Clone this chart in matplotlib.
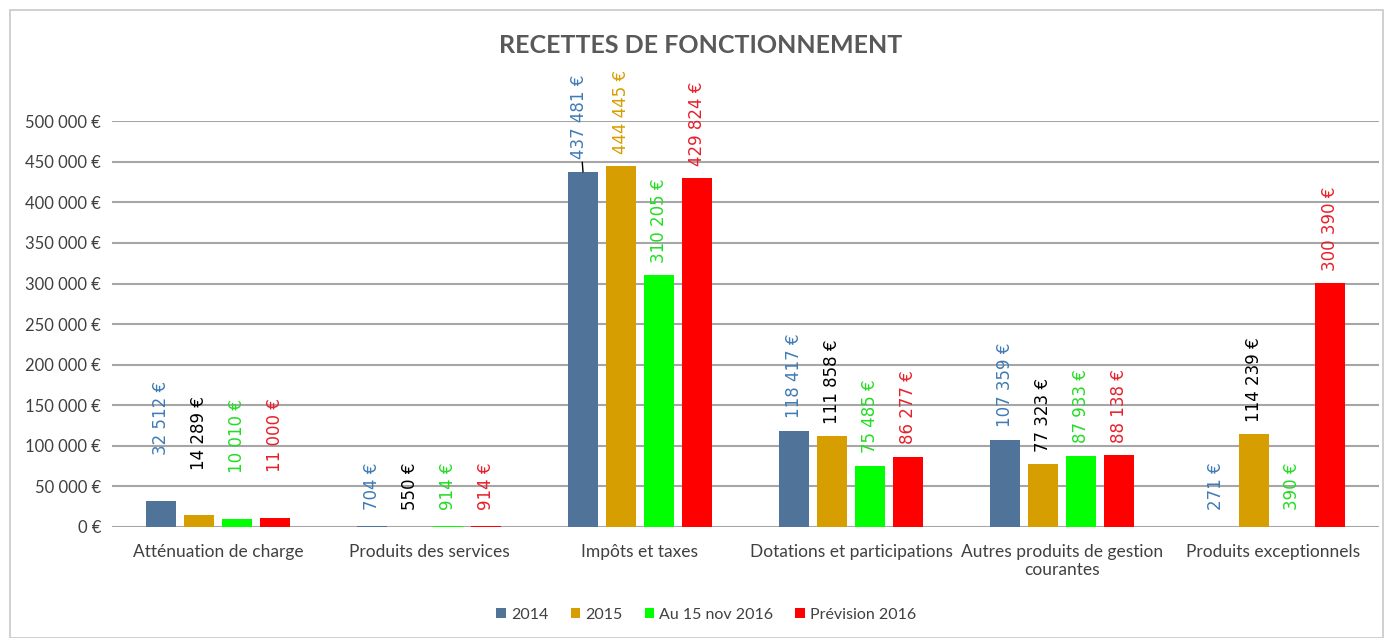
import matplotlib.pyplot as plt
from matplotlib.patches import Rectangle
import numpy as np

# data
categories = ["Atténuation de charge", "Produits des services", "Impôts et taxes",
              "Dotations et participations", "Autres produits de gestion\ncourantes",
              "Produits exceptionnels"]
series = ["2014", "2015", "Au 15 nov 2016", "Prévision 2016"]
v2014 = [32512, 704, 437481, 118417, 107359, 271]
v2015 = [14289, 550, 444445, 111858, 77323, 114239]
vnov2016 = [10010, 914, 310205, 75485, 87933, 390]
vprev2016 = [11000, 914, 429824, 86277, 88138, 300390]
yticks = [0, 50000, 100000, 150000, 200000, 250000, 300000, 350000, 400000, 450000, 500000]

bar_colors = ["#50739A", "#D69E00", "#00FF00", "#FF0000"]
label_colors = ["#3F7BB6", "#000000", "#22DD22", "#E8202A"]

def fmt(v):
    return "{:,}".format(v).replace(",", " ") + " €"

plt.rcParams['font.family'] = ['Lato', 'DejaVu Sans']

fig = plt.figure(figsize=(13.87, 6.38), dpi=100)
fig.patches.append(Rectangle((0.007, 0.0), 0.99, 0.985, transform=fig.transFigure,
                             fill=False, edgecolor="#C8C8C8", linewidth=1.2))
ax = fig.add_axes([0.081, 0.174, 0.913, 0.636])

x = np.arange(len(categories))
width = 0.142
step = 0.18
all_vals = [v2014, v2015, vnov2016, vprev2016]
for i, (name, vals) in enumerate(zip(series, all_vals)):
    pos = x + (i - 1.5) * step
    ax.bar(pos, vals, width, color=bar_colors[i], label=name, zorder=3)
    for j, (p, v) in enumerate(zip(pos, vals)):
        c = label_colors[i]
        if i == 1 and j == 2:
            c = "#D69E00"
        off = (0, 9)
        arrow = None
        if j == 0:
            off = (0, 33)
        if j == 1 or (j == 5 and i in (0, 2)):
            off = (0, 12)
        if i == 0 and j == 2:
            # the leader line on this one label
            off = (-3, 9)
            arrow = dict(arrowstyle="-", color="black", lw=1, shrinkA=0, shrinkB=0)
        ax.annotate(fmt(v), (p, v), xytext=off, textcoords="offset points",
                    rotation=90, ha="center", va="bottom", color=c,
                    fontsize=12, family="DejaVu Sans", annotation_clip=False,
                    arrowprops=arrow)

ax.set_xlim(-0.5, len(categories) - 0.5)
ax.set_ylim(0, 500000)
ax.set_yticks(yticks)
ax.set_yticklabels([fmt(t) for t in yticks], fontsize=12, color="#404040")
ax.set_xticks(x)
ax.set_xticklabels(categories, fontsize=12.5, color="#404040")
ax.tick_params(axis="x", length=0, pad=12)
ax.tick_params(axis="y", length=0, pad=8)
ax.grid(axis="y", color="#A6A6A6", linewidth=1.5, zorder=0)
for s in ax.spines.values():
    s.set_visible(False)

fig.text(0.505, 0.928, "RECETTES DE FONCTIONNEMENT", ha="center", va="center",
         fontsize=18, fontweight="bold", color="#595959")

ax.legend(loc="center", bbox_to_anchor=(0.469, -0.217), ncol=4, frameon=False,
          fontsize=11.5, handlelength=0.6, handleheight=0.6, columnspacing=1.4,
          handletextpad=0.3, labelcolor="#404040")

fig.savefig("out.png", dpi=100)
